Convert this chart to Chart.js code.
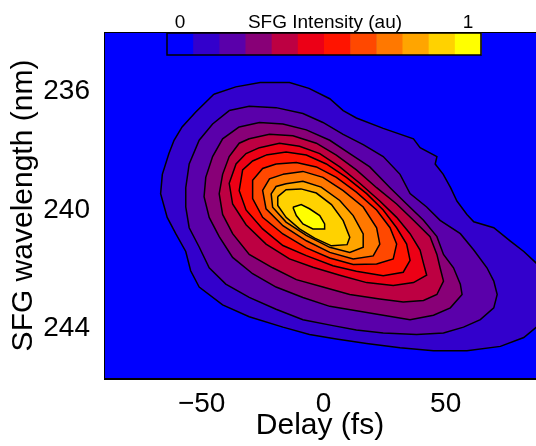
<!DOCTYPE html>
<html>
<head>
<meta charset="utf-8">
<script src="https://cdn.jsdelivr.net/npm/chart.js@4.4.1/dist/chart.umd.min.js"></script>
<style>
  html, body { margin: 0; padding: 0; background: #fff; }
</style>
</head>
<body>
<canvas id="chart" width="536" height="446"></canvas>
<script>
// Ticks
const delayTicks = [-50, 0, 50];
const wavelengthTicks = [236, 240, 244];

// Colour levels (0 -> 1), first one is the background
const levelColors = ['#0000ff', '#3300cc', '#5a00aa', '#880077', '#bd0042', '#ec0016',
                     '#ff1400', '#ff4800', '#ff7800', '#ffa500', '#ffd200', '#ffff00'];

// Contour lines, [delay (fs), wavelength (nm)], outermost first
const c1 = [[-45,236.1],[-36,235.85],[-26,235.7],[-14,235.7],[-6,235.9],[2.5,236.25],[8,236.65],[13.4,236.9],[24.4,237.25],[36.8,237.6],[39.5,237.9],[46.4,238.2],[45.7,238.45],[49,238.8],[52,239.25],[54.6,239.7],[58.7,240.15],[61.5,240.4],[69.7,240.6],[76.5,241.05],[82,241.4],[87.2,241.8],[93,242.85],[87.2,243.95],[82,244.3],[72.4,244.6],[58.7,244.75],[45,244.75],[31.3,244.65],[17.6,244.5],[5.2,244.35],[-5.8,244.2],[-16.7,243.95],[-30.5,243.6],[-41.4,243.2],[-51,242.6],[-54.5,242.05],[-56.5,241.4],[-60.6,240.8],[-64.1,240.25],[-66.8,239.45],[-66.1,238.8],[-63.4,238.1],[-61.3,237.65],[-58,237.2],[-52.4,236.7]];
const c2 = [[-38.7,236.65],[-30.5,236.5],[-19.5,236.55],[-8.5,236.75],[-0.3,237.05],[8,237.45],[16.2,237.8],[24.4,238.2],[31.3,238.8],[35.4,239.45],[42.2,239.9],[47.7,240.35],[56,240.8],[61.5,241.35],[66.9,241.95],[69.7,242.4],[71.1,242.85],[69.7,243.3],[64.2,243.7],[57.3,243.95],[49.1,244.15],[38.1,244.2],[24.4,244.15],[13.4,244.05],[3.8,243.9],[-8.5,243.7],[-19.5,243.35],[-30.5,242.95],[-40.1,242.5],[-46.9,241.95],[-51,241.25],[-55.1,240.6],[-56.5,239.9],[-56.5,239.25],[-55.1,238.45],[-51,237.65],[-45.5,237.1]];
const c3 = [[-34.6,237.2],[-26.3,237.05],[-16.7,237.1],[-7.1,237.3],[2.5,237.65],[10.7,238.1],[18.9,238.55],[27.2,239.25],[34,239.8],[40.9,240.35],[46.4,240.9],[49.1,241.5],[53.2,241.95],[56,242.5],[56.7,242.85],[51.9,243.3],[45,243.55],[35.4,243.7],[24.4,243.55],[13.4,243.4],[2.5,243.25],[-8.5,242.95],[-19.5,242.6],[-29.1,242.15],[-37.3,241.6],[-42.8,240.9],[-46.9,240.25],[-49,239.55],[-48.3,238.9],[-45.5,238.2],[-41.4,237.6]];
const c4 = [[-30.5,237.6],[-22.2,237.45],[-12.6,237.5],[-3,237.75],[5.2,238.15],[13.4,238.65],[21.7,239.25],[29.9,239.8],[36.8,240.35],[43.6,240.9],[46.4,241.5],[47.7,241.95],[49.1,242.4],[46.4,242.85],[40.9,243.05],[32.6,243.1],[23,243],[10.7,242.85],[-0.3,242.6],[-11.2,242.35],[-20.9,241.95],[-30.5,241.5],[-37.3,240.8],[-41.4,240.15],[-42.8,239.45],[-41.4,238.8],[-38.7,238.2],[-34.6,237.75]];
const c5 = [[-26.3,237.9],[-18.1,237.75],[-9.9,237.85],[-1.6,238.1],[6.6,238.55],[14.8,239.1],[23,239.7],[29.9,240.25],[35.4,240.8],[39.5,241.35],[40.9,241.8],[42.2,242.2],[36.8,242.45],[28.5,242.55],[17.6,242.45],[6.6,242.2],[-4.4,241.93],[-14,241.65],[-23.6,241.15],[-31.8,240.5],[-37.3,239.8],[-38.7,239.1],[-35.9,238.45],[-31.8,238.1]];
const c6 = [[-23.6,238.15],[-15.4,238.05],[-7.1,238.15],[1.1,238.45],[9.3,238.9],[17.6,239.45],[24.4,240],[29.9,240.6],[34,241.15],[35.4,241.7],[32.6,242.1],[24.4,242.22],[13.4,242.07],[3.8,241.88],[-7.1,241.54],[-16.7,241.2],[-25,240.64],[-31.8,240],[-34.6,239.35],[-33.2,238.65],[-29.1,238.35]];
const c7 = [[-19.5,238.45],[-11.2,238.4],[-3,238.55],[5.2,238.9],[13.4,239.4],[21.7,240],[27.2,240.6],[29.9,241.15],[28.5,241.65],[21.7,241.82],[12.1,241.84],[2.5,241.62],[-7.1,241.28],[-16.7,240.81],[-25,240.25],[-29.1,239.62],[-29.1,239],[-25,238.6]];
const c8 = [[-16.7,238.8],[-8.5,238.7],[-0.3,238.9],[8,239.35],[16.2,239.9],[21.7,240.6],[23,241.15],[20.3,241.55],[12.1,241.65],[2.5,241.43],[-7.1,241.04],[-16.7,240.53],[-23.6,239.96],[-25,239.34],[-22.2,238.95]];
const c9 = [[-15.4,239.12],[-8.5,239.03],[-1,239.23],[6.6,239.68],[12.1,240.19],[16.2,240.81],[16.2,241.26],[10.7,241.43],[2.5,241.26],[-7.1,240.86],[-15.4,240.41],[-20.9,239.91],[-21.5,239.46],[-19.5,239.21]];
const c10 = [[-18.8,239.55],[-15.4,239.32],[-9.3,239.29],[-3,239.43],[3.2,239.82],[8,240.36],[10.7,240.92],[9.6,241.17],[3.2,241.21],[-3.7,240.95],[-9.9,240.64],[-15.4,240.25],[-18.8,239.85]];
const c11 = [[-12.6,239.91],[-9.2,239.82],[-5.8,239.96],[-1.6,240.19],[0.4,240.47],[0.4,240.64],[-4.4,240.64],[-8.5,240.47],[-11.2,240.19]];

const contours = [c1, c2, c3, c4, c5, c6, c7, c8, c9, c10, c11];

const FONT = "'Liberation Sans', Arial, Helvetica, sans-serif";
Chart.defaults.font.family = FONT;
Chart.defaults.color = '#000';

// blue background of the plot
const plotBackground = {
    id: 'plotBackground',
    beforeDraw(chart) {
        const { ctx, chartArea: a } = chart;
        ctx.save();
        ctx.fillStyle = levelColors[0];
        ctx.fillRect(a.left, a.top, a.width, a.height);
        ctx.restore();
    }
};

// fill each closed contour before its outline is drawn
const contourFill = {
    id: 'contourFill',
    beforeDatasetDraw(chart, args) {
        const { ctx, chartArea: a } = chart;
        const pts = args.meta.data;
        ctx.save();
        ctx.beginPath();
        ctx.rect(a.left, a.top, a.width, a.height);
        ctx.clip();
        ctx.beginPath();
        pts.forEach((p, i) => i ? ctx.lineTo(p.x, p.y) : ctx.moveTo(p.x, p.y));
        ctx.closePath();
        ctx.fillStyle = chart.data.datasets[args.index].backgroundColor;
        ctx.fill();
        ctx.restore();
    }
};

// frame + colour bar on top
const frameAndColorbar = {
    id: 'frameAndColorbar',
    afterDatasetsDraw(chart) {
        const { ctx, chartArea: a } = chart;
        ctx.save();
        ctx.strokeStyle = '#000';
        ctx.lineWidth = 1;
        ctx.strokeRect(a.left + 0.5, a.top + 0.5, a.width, a.height - 1);

        const x0 = a.left + 63, y0 = a.top + 1, w = 314, h = 22;
        const cw = w / levelColors.length;
        levelColors.forEach((c, i) => {
            ctx.fillStyle = c;
            ctx.fillRect(x0 + i * cw, y0, cw + 0.5, h);
        });
        ctx.lineWidth = 1.5;
        ctx.strokeRect(x0, y0, w, h);

        ctx.fillStyle = '#000';
        ctx.font = '19px ' + FONT;
        ctx.textAlign = 'center';
        ctx.textBaseline = 'alphabetic';
        ctx.fillText('0', x0 + cw / 2, a.top - 4);
        ctx.fillText('1', x0 + w - cw / 2, a.top - 4);
        ctx.fillText('SFG Intensity (au)', x0 + w / 2 + 1, a.top - 4);
        ctx.restore();
    }
};

const datasets = contours.map((c, i) => ({
    data: c.concat([c[0]]).map(([x, y]) => ({ x: x, y: y })),
    backgroundColor: levelColors[i + 1],
    borderColor: '#000',
    borderWidth: 1.5,
    pointRadius: 0,
    showLine: true,
    fill: false,
    tension: 0,
    order: contours.length - i
}));

new Chart(document.getElementById('chart'), {
    type: 'scatter',
    data: { datasets: datasets },
    plugins: [plotBackground, contourFill, frameAndColorbar],
    options: {
        responsive: false,
        animation: false,
        layout: { padding: { top: 32, right: 0, left: 0, bottom: 0 } },
        plugins: {
            legend: { display: false },
            tooltip: { enabled: false }
        },
        scales: {
            x: {
                type: 'linear',
                min: -90,
                max: 87,
                afterBuildTicks: s => { s.ticks = delayTicks.map(v => ({ value: v })); },
                afterFit: s => { s.height = 67; },
                grid: { display: false, drawTicks: false },
                border: { display: true, color: '#000', width: 1 },
                ticks: {
                    font: { size: 28 },
                    color: '#000',
                    padding: 8,
                    maxRotation: 0,
                    callback: v => v < 0 ? '\u2212' + Math.abs(v) : String(v)
                },
                title: {
                    display: true,
                    text: 'Delay (fs)',
                    font: { size: 30 },
                    color: '#000',
                    padding: { top: 0, bottom: 2 }
                }
            },
            y: {
                type: 'linear',
                reverse: true,
                min: 234,
                max: 245.7,
                afterBuildTicks: s => { s.ticks = wavelengthTicks.map(v => ({ value: v })); },
                afterFit: s => { s.width = 104; },
                grid: { display: false, drawTicks: false },
                border: { display: true, color: '#000', width: 1 },
                ticks: {
                    font: { size: 28 },
                    color: '#000',
                    padding: 14
                },
                title: {
                    display: true,
                    text: 'SFG wavelength (nm)',
                    font: { size: 30 },
                    color: '#000',
                    padding: { top: 6, bottom: 0 }
                }
            }
        }
    }
});
</script>
</body>
</html>
